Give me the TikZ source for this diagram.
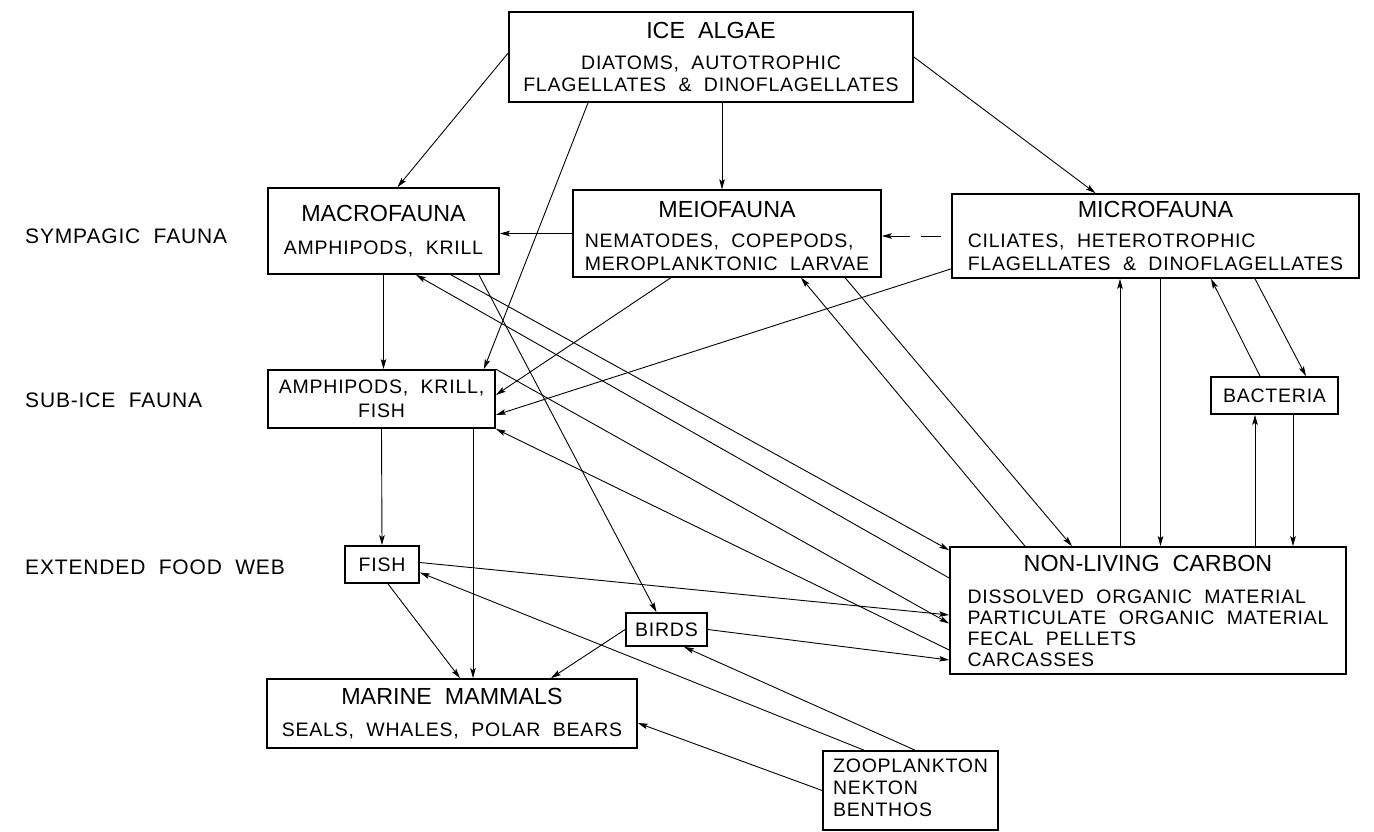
\documentclass[tikz,border=0pt]{standalone}
\usepackage{fontspec}
\usetikzlibrary{arrows.meta}
\newfontfamily\webfont[LetterSpace=4, WordSpace=2]{Liberation Sans}
\newfontfamily\headfont[WordSpace=2]{Liberation Sans}
\newcommand\smallfont{\webfont\fontsize{19.5}{22}\selectfont}
\newcommand\titlefont{\headfont\fontsize{23.3}{22}\selectfont}
\newcommand\labelfont{\webfont\fontsize{21}{22}\selectfont}

\begin{document}
\begin{tikzpicture}[x=1pt, y=-1pt,
    box/.style={draw, line width=1.7pt, inner sep=0pt, font=\smallfont, align=center},
    arr/.style={-{Stealth[length=10pt, width=5.5pt, inset=2pt]}, line width=0.9pt},
    side/.style={anchor=west, inner sep=0pt, font=\labelfont}]
  \useasboundingbox (0,0) rectangle (1374,832);

  % levels on the left
  \node [side] (lsym) at (25,236) {SYMPAGIC FAUNA};
  \node [side] (lsub) at (25,400) {SUB-ICE FAUNA};
  \node [side] (lext) at (25,567) {EXTENDED FOOD WEB};

  % boxes
  \node [box, minimum width=404pt, minimum height=90pt] (ice) at (711,57)
    {{\titlefont ICE ALGAE}\\[9pt] DIATOMS, AUTOTROPHIC\\ FLAGELLATES \& DINOFLAGELLATES};
  \node [box, minimum width=231pt, minimum height=86pt] (macro) at (383.5,231)
    {{\titlefont MACROFAUNA}\\[11pt] AMPHIPODS, KRILL};
  \node [box, minimum width=308pt, minimum height=85pt] (meio) at (727,233.5)
    {\begin{tabular}{@{}l@{}}\multicolumn{1}{c}{\rule{0pt}{27pt}\titlefont MEIOFAUNA}\\[8pt]
      NEMATODES, COPEPODS,\\[1pt] MEROPLANKTONIC LARVAE\end{tabular}};
  \node [box, minimum width=407pt, minimum height=84pt] (micro) at (1155.5,236)
    {\begin{tabular}{@{}l@{}}\multicolumn{1}{c}{\rule{0pt}{23pt}\titlefont MICROFAUNA}\\[8pt]
      CILIATES, HETEROTROPHIC\\[1pt] FLAGELLATES \& DINOFLAGELLATES\end{tabular}};
  \node [box, minimum width=227pt, minimum height=58pt] (subice) at (381.5,399)
    {AMPHIPODS, KRILL,\\[2pt] FISH};
  \node [box, minimum width=127pt, minimum height=37pt] (bact) at (1274.5,395.5) {BACTERIA};
  \node [box, minimum width=74pt, minimum height=37pt] (fish) at (382,564.5) {FISH};
  \node [box, minimum width=81pt, minimum height=33pt] (birds) at (666.5,629.5) {BIRDS};
  \node [box, minimum width=370pt, minimum height=69pt] (mammals) at (452,713.5)
    {{\titlefont MARINE MAMMALS}\\[10pt] SEALS, WHALES, POLAR BEARS};
  \node [box, minimum width=396pt, minimum height=127pt] (carbon) at (1148,610.5)
    {\begin{tabular}{@{}l@{}}\multicolumn{1}{c}{\rule{0pt}{24pt}\titlefont NON-LIVING CARBON}\\[10pt]
      DISSOLVED ORGANIC MATERIAL\\[-1pt] PARTICULATE ORGANIC MATERIAL\\[-1pt]
      FECAL PELLETS\\[-1pt] CARCASSES\end{tabular}};
  \node [box, minimum width=175pt, minimum height=79pt] (zoo) at (910.5,790.5)
    {\begin{tabular}{@{}l@{}}ZOOPLANKTON\\ NEKTON\\ BENTHOS\end{tabular}};

  % from the ice algae
  \draw [arr] ([yshift=4pt]ice.west) -- ([xshift=14pt]macro.north);
  \draw [arr] ([xshift=-123pt]ice.south) -- ([xshift=-12pt]subice.north east);
  \draw [arr] ([xshift=11pt]ice.south) -- ([xshift=11pt]ice.south |- meio.north);
  \draw [arr] (ice.east) -- ([xshift=-60pt]micro.north);

  % sympagic fauna
  \draw [arr] (meio.west) -- (meio.west -| macro.east);
  \draw [arr, dash pattern={on 0pt off 10pt on 20pt off 11pt on 40pt}] (micro.west) -- (micro.west -| meio.east);
  \draw [arr] (macro.south) -- (macro.south |- subice.north);
  \draw [arr] ([xshift=67.5pt]macro.south) -- ([yshift=-4pt]carbon.north west);
  \draw [arr] ([yshift=32.5pt]carbon.west) -- ([xshift=32.5pt]macro.south);
  \draw [arr] ([xshift=95.5pt]macro.south) -- ([xshift=-10pt]birds.north);
  \draw [arr] ([xshift=-56pt]meio.south) -- ([yshift=4pt]subice.east);
  \draw [arr] ([yshift=10pt]micro.south west) -- ([yshift=-16pt]subice.east);
  \draw [arr] ([xshift=118pt]meio.south) -- ([xshift=-76pt]carbon.north);
  \draw [arr] ([xshift=-123pt]carbon.north) -- ([xshift=74pt]meio.south);

  % microbial loop
  \draw [arr] ([xshift=5pt]micro.south) -- ([xshift=5pt]micro.south |- carbon.north);
  \draw [arr] ([xshift=-28pt]carbon.north) -- ([xshift=-28pt]carbon.north |- micro.south);
  \draw [arr] ([xshift=99.5pt]micro.south) -- ([xshift=31.5pt]bact.north);
  \draw [arr] ([xshift=-14.5pt]bact.north) -- ([xshift=55.5pt]micro.south);
  \draw [arr] ([xshift=-19.5pt]bact.south |- carbon.north) -- ([xshift=-19.5pt]bact.south);
  \draw [arr] ([xshift=18.5pt]bact.south) -- ([xshift=18.5pt]bact.south |- carbon.north);

  % sub-ice fauna
  \draw [arr] (subice.north east) -- ([yshift=-13pt]carbon.west);
  \draw [arr] ([yshift=-39.5pt]carbon.west) -- (subice.south east);
  \draw [arr] (subice.south) -- (fish.north);
  \draw [arr] ([xshift=91.5pt]subice.south) -- ([xshift=91.5pt]subice.south |- mammals.north);

  % extended food web
  \draw [arr] ([xshift=6pt]fish.south) -- ([xshift=8pt]mammals.north);
  \draw [arr] ([yshift=2pt]fish.east) -- ([yshift=-4.5pt]carbon.west);
  \draw [arr] (birds.west) -- ([xshift=99pt]mammals.north);
  \draw [arr] (birds.east) -- ([yshift=-49.5pt]carbon.west);
  \draw [arr] ([xshift=-46.5pt]zoo.north) -- ([yshift=-8pt]fish.east);
  \draw [arr] ([xshift=4.5pt]zoo.north) -- ([xshift=17.5pt]birds.south);
  \draw [arr] (zoo.west) -- ([yshift=-9.5pt]mammals.east);
\end{tikzpicture}
\end{document}
